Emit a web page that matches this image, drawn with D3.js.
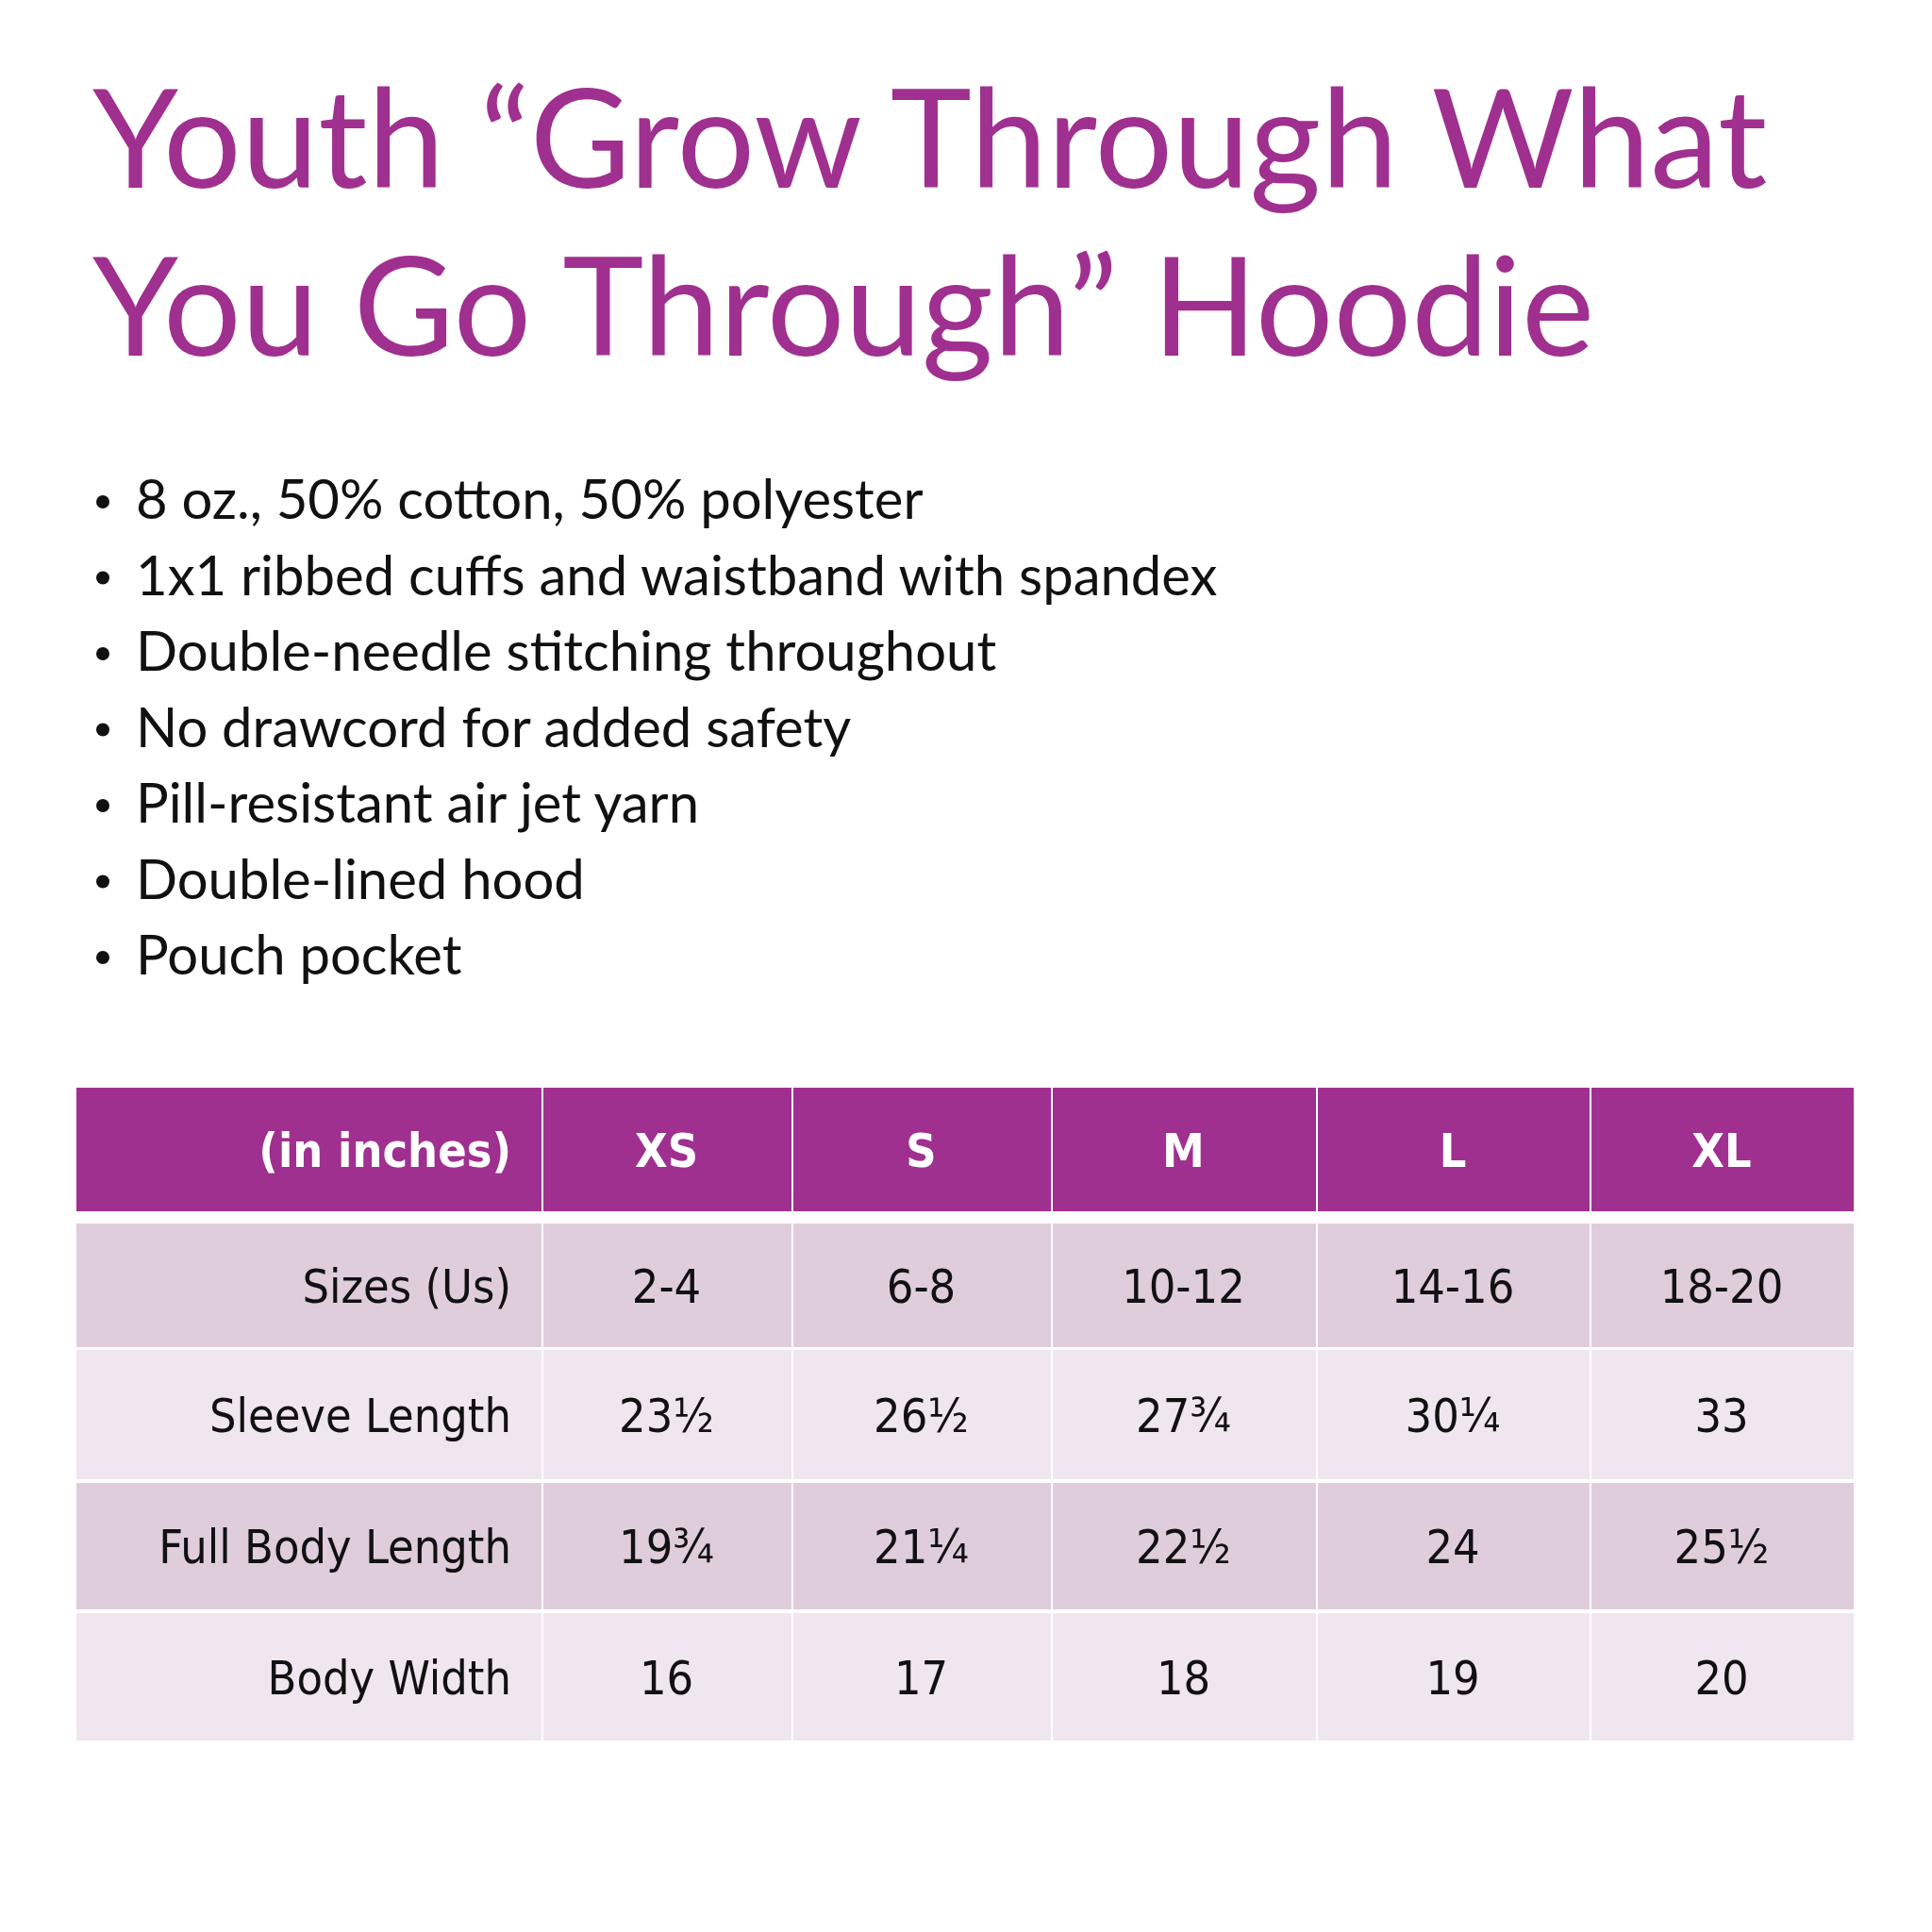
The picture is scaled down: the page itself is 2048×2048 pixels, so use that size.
<!DOCTYPE html>
<html><head><meta charset="utf-8">
<script src="https://cdn.jsdelivr.net/npm/d3@7"></script>
<style>body{margin:0;background:#fff}</style>
</head><body>
<svg id="chart" width="2048" height="2048"></svg>
<script>
const titleLines = ['Youth \u201cGrow Through What', 'You Go Through\u201d Hoodie'];
const features = [
    '8 oz., 50% cotton, 50% polyester',
    '1x1 ribbed cuffs and waistband with spandex',
    'Double-needle stitching throughout',
    'No drawcord for added safety',
    'Pill-resistant air jet yarn',
    'Double-lined hood',
    'Pouch pocket'
];
const headerLabel = '(in inches)';
const sizes = ['XS', 'S', 'M', 'L', 'XL'];
const rowLabels = ['Sizes (Us)', 'Sleeve Length', 'Full Body Length', 'Body Width'];
const usSizes = ['2-4', '6-8', '10-12', '14-16', '18-20'];
const sleeveLength = ['23\u00bd', '26\u00bd', '27\u00be', '30\u00bc', '33'];
const fullBodyLength = ['19\u00be', '21\u00bc', '22\u00bd', '24', '25\u00bd'];
const bodyWidth = ['16', '17', '18', '19', '20'];
const rows = [usSizes, sleeveLength, fullBodyLength, bodyWidth];

const svg = d3.select('#chart');
const purple = '#a0308f';

// title
svg.selectAll('.title').data(titleLines).enter().append('text')
    .attr('class', 'title')
    .attr('x', 98)
    .attr('y', (d, i) => 199 + i * 178)
    .attr('font-family', 'Lato, "Open Sans", sans-serif')
    .attr('font-size', 146)
    .attr('fill', purple)
    .text(d => d);

// bullets
const bulletY = d3.scalePoint().domain(d3.range(features.length)).range([550, 1033]);
const bullets = svg.selectAll('.bullet').data(features).enter().append('g')
    .attr('transform', (d, i) => `translate(0,${bulletY(i)})`);
bullets.append('circle').attr('cx', 109).attr('cy', -18).attr('r', 7).attr('fill', '#111');
bullets.append('text')
    .attr('x', 144)
    .attr('font-family', 'Lato, "Open Sans", sans-serif')
    .attr('font-size', 58)
    .attr('fill', '#111')
    .text(d => d);

// table layout
const colEdges = [81, 574, 839, 1114, 1395, 1685, 1965];
const rowEdges = [[1153, 1284], [1297, 1428], [1431, 1568], [1572, 1706], [1710, 1845]];
const rowFill = ['#dfcddc', '#f0e6ef'];
const font = '"DejaVu Sans Condensed", "Liberation Sans", sans-serif';

const allRows = [[headerLabel].concat(sizes)].concat(rows.map((r, i) => [rowLabels[i]].concat(r)));

allRows.forEach((cells, ri) => {
    const [y0, y1] = rowEdges[ri];
    const g = svg.append('g');
    cells.forEach((txt, ci) => {
        const x0 = colEdges[ci], x1 = colEdges[ci + 1];
        g.append('rect')
            .attr('x', x0 + (ci ? 2 : 0)).attr('y', y0)
            .attr('width', x1 - x0 - (ci ? 2 : 0)).attr('height', y1 - y0)
            .attr('fill', ri === 0 ? purple : rowFill[(ri - 1) % 2]);
        g.append('text')
            .attr('x', ci === 0 ? x1 - 32 : (x0 + x1) / 2)
            .attr('y', (y0 + y1) / 2)
            .attr('dy', '0.36em')
            .attr('text-anchor', ci === 0 ? 'end' : 'middle')
            .attr('font-family', font)
            .attr('font-size', 50)
            .attr('font-weight', ri === 0 ? 'bold' : 'normal')
            .attr('fill', ri === 0 ? '#fff' : '#111')
            .text(txt);
    });
});
</script>
</body></html>
